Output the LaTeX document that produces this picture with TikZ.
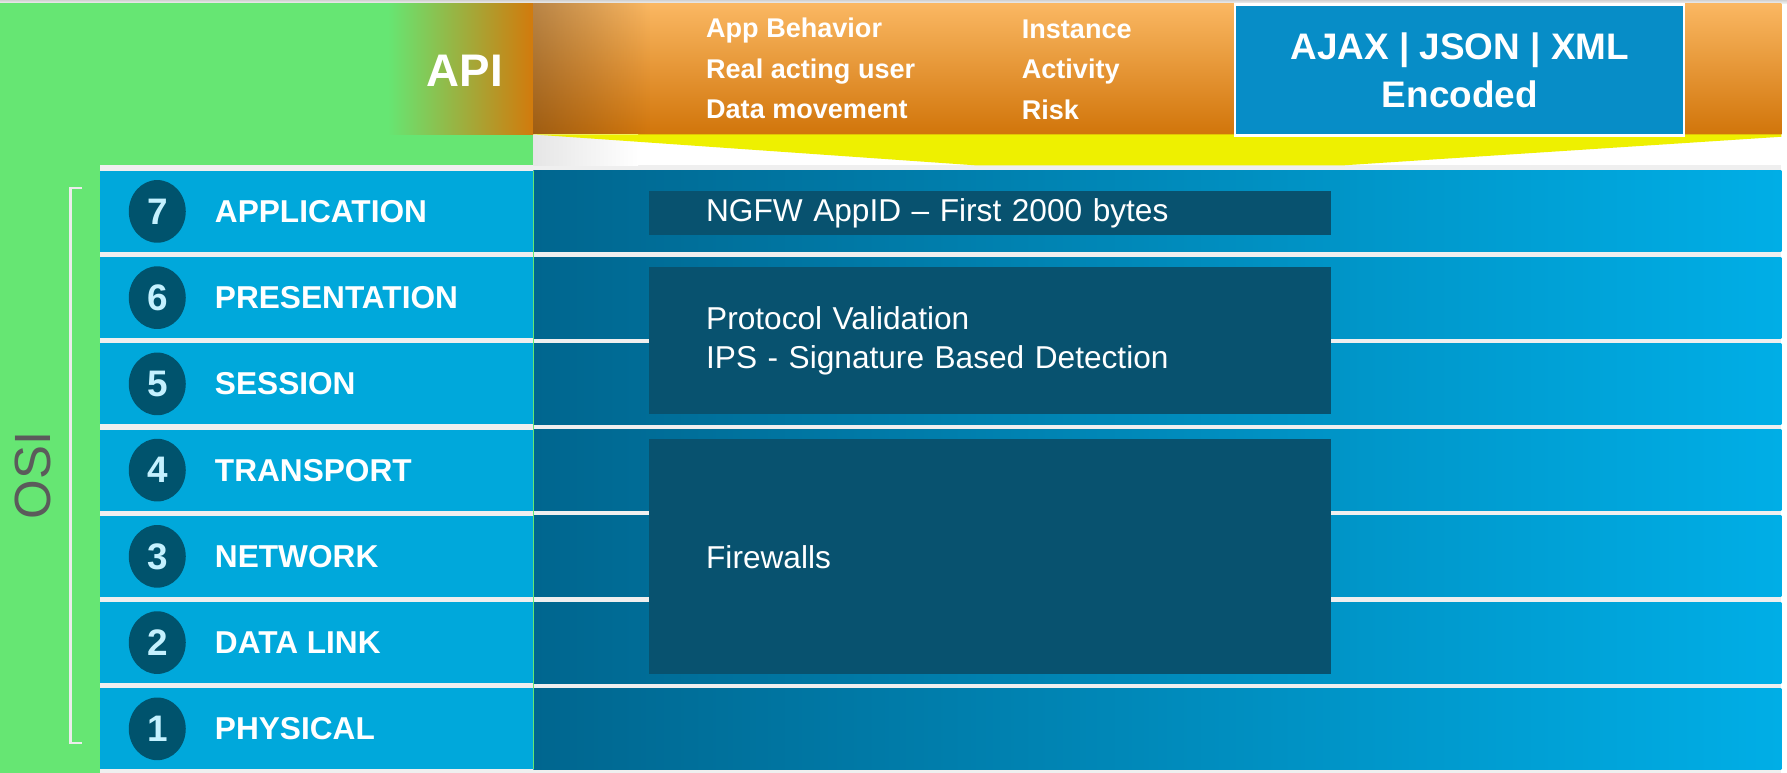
\documentclass[tikz,border=0pt]{standalone}
\usepackage{fontspec}
\setmainfont{Liberation Sans}
\usepackage{tikz}
\usetikzlibrary{shapes.geometric,positioning,fadings}

\newdimen\px
\px=0.011397cm

\definecolor{osigreen}{HTML}{66E673}
\definecolor{osigray}{HTML}{5B5B5B}
\definecolor{apiorange}{HTML}{D27A0C}
\definecolor{apilight}{HTML}{FAB762}
\definecolor{apidark}{HTML}{D1750A}
\definecolor{encblue}{HTML}{078DC7}
\definecolor{fanyellow}{HTML}{EEF000}
\definecolor{laylight}{HTML}{00A8DB}
\definecolor{laydark}{HTML}{00668F}
\definecolor{layend}{HTML}{00AEE6}
\definecolor{boxdark}{HTML}{08526F}
\definecolor{numdark}{HTML}{00536D}
\definecolor{numtext}{HTML}{C4F1FF}
\definecolor{gapgray}{HTML}{EFEFEF}

\begin{document}
\begin{tikzpicture}[
        x=0.011397cm, y=-0.011397cm,
        layer/.style={rectangle, fill=laylight, minimum width=380\px, minimum height=71\px, inner sep=0pt, outer sep=0pt},
        band/.style={rectangle, left color=laydark, right color=layend, minimum width=1095\px, minimum height=71\px, inner sep=0pt, outer sep=0pt},
        laynum/.style={ellipse, fill=numdark, minimum width=50\px, minimum height=55\px, inner sep=0pt, text=numtext, font=\bfseries\fontsize{10.5}{12}\selectfont},
        layname/.style={anchor=west, inner sep=0pt, text=white, font=\bfseries\fontsize{9}{11}\selectfont},
        secbox/.style={rectangle, anchor=north west, fill=boxdark, inner xsep=50\px, inner ysep=0pt, text width=498\px, align=left, text=white, font=\fontsize{9}{11}\selectfont},
        toptext/.style={anchor=west, align=left, inner sep=0pt, text=white, font=\bfseries\fontsize{7.7}{11.5}\selectfont},
        encbox/.style={rectangle, anchor=north west, fill=encblue, draw=white, line width=0.6pt, minimum width=394\px, minimum height=115\px, align=center, text=white, font=\bfseries\fontsize{10.5}{13.6}\selectfont}
    ]
    \useasboundingbox (0,0) rectangle (1568,678);
    \fill[white] (0,0) rectangle (1568,678);
    \shade[top color=gray!35, bottom color=gray!10] (0,0) rectangle (1568,3);
    % Green OSI frame
    \fill[osigreen] (0,3) rectangle (88,678);
    \fill[osigreen] (88,3) rectangle (468,145);
    \fill[gapgray] (88,145) rectangle (1563,678);
    % API banner
    \shade[left color=osigreen, right color=apiorange] (340,3) rectangle (468,118);
    \shade[top color=apilight, bottom color=apidark] (468,3) rectangle (1563,118);
    \fill[black!55!brown, fill opacity=0.4, path fading=east] (468,3) rectangle (570,118);
    \shade[left color=gray!20, right color=white] (468,118) rectangle (560,145);
    \fill[fanyellow] (468,118) -- (1563,118) -- (1563,120) -- (1180,145) -- (855,145) -- cycle;
    \node[text=white, font=\bfseries\fontsize{13}{15}\selectfont] (api) at (408,62) {API};
    \node[toptext] (behavior) at (619,60) {App Behavior\\Real acting user\\Data movement};
    \node[toptext] (risk) at (896,61) {Instance\\Activity\\Risk};
    \node[encbox] (encoded) at (1083,3) {AJAX | JSON | XML\\Encoded};
    % Layers
    \foreach \n/\lname [count=\i from 0] in {7/APPLICATION, 6/PRESENTATION, 5/SESSION, 4/TRANSPORT, 3/NETWORK, 2/DATA LINK, 1/PHYSICAL} {
        \node[layer] (lay\n) at (278, 185.5+75.67*\i) {};
        \node[band, right=0pt of lay\n] (band\n) {};
        \node[laynum] (num\n) at ([xshift=-140\px]lay\n.center) {\n};
        \node[layname] (name\n) at ([xshift=-90\px]lay\n.center) {\lname};
    }
    \draw[osigreen, line width=0.4pt] (band7.north west) -- (band1.south west);
    % Security boxes
    \node[secbox, minimum height=39\px] (appid) at (569,167) {NGFW AppID -- First 2000 bytes};
    \node[secbox, minimum height=129\px] (ips) at (569,234) {Protocol Validation\\IPS - Signature Based Detection};
    \node[secbox, minimum height=206\px] (firewall) at (569,385) {Firewalls};
    % OSI bracket
    \draw[white!85!gray, line width=0.7pt] (72,165) -- (62,165) -- (62,652) -- (72,652);
    \node[rotate=90, text=osigray, font=\fontsize{14.5}{16}\selectfont] (osi) at (29,417) {OSI};
\end{tikzpicture}
\end{document}
